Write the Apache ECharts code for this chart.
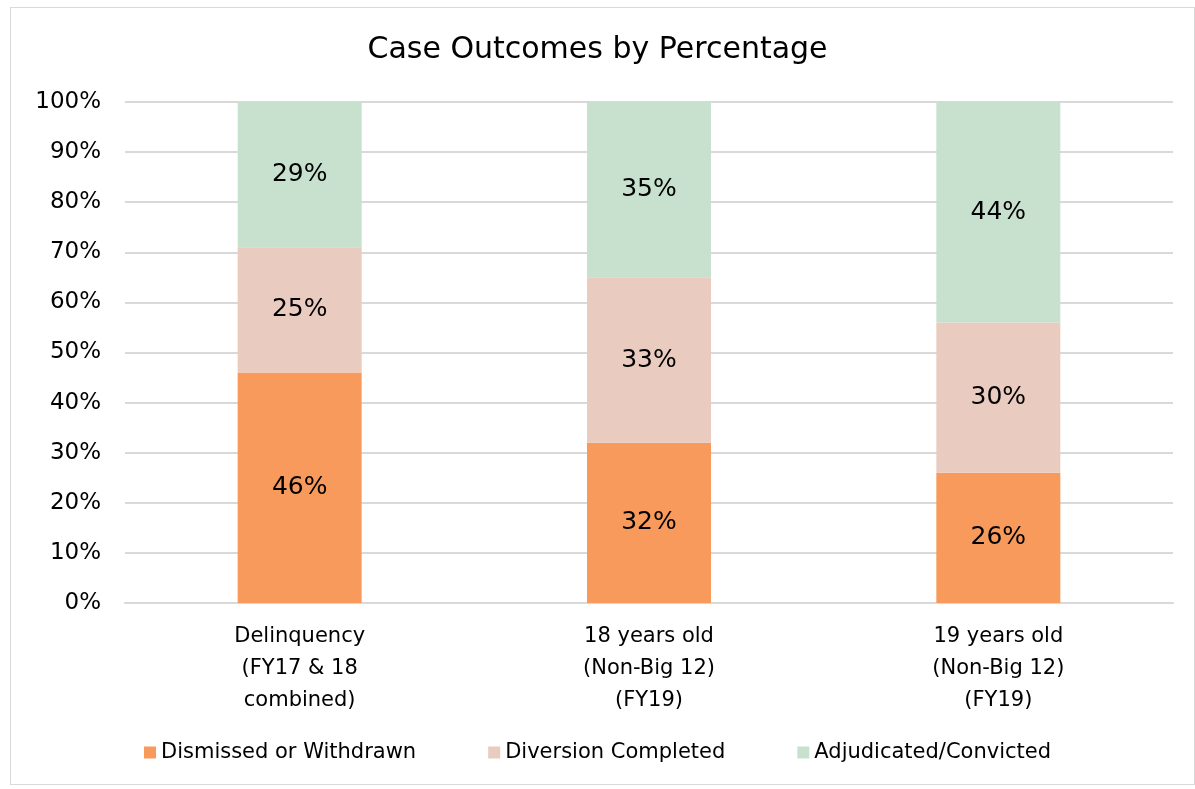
<!DOCTYPE html>
<html>
<head>
<meta charset="utf-8">
<script src="https://cdn.jsdelivr.net/npm/echarts@6/dist/echarts.min.js"></script>
<style>
  html, body { margin: 0; padding: 0; background: #fff; }
  #frame { position: absolute; left: 10px; top: 7px; width: 1185px; height: 778px; border: 1px solid #d9d9d9; box-sizing: border-box; }
  #main { position: absolute; left: 0; top: 0; width: 1195px; height: 789px; }
</style>
</head>
<body>
<div id="frame"></div>
<div id="main"></div>
<script>
var categories = ['Delinquency\n(FY17 & 18\ncombined)', '18 years old\n(Non-Big 12)\n(FY19)', '19 years old\n(Non-Big 12)\n(FY19)'];
var dismissed = [46, 32, 26];
var diversion = [25, 33, 30];
var adjudicated = [29, 35, 44];

var chart = echarts.init(document.getElementById('main'));
var font = '"DejaVu Sans", sans-serif';

function seriesOf(name, data, color) {
  return {
    name: name,
    type: 'bar',
    stack: 'total',
    data: data,
    barWidth: 124,
    itemStyle: { color: color },
    label: {
      show: true,
      formatter: '{c}%',
      color: '#000',
      fontSize: 25,
      fontFamily: font
    }
  };
}

var option = {
  animation: false,
  textStyle: { fontFamily: font },
  title: {
    text: 'Case Outcomes by Percentage',
    left: 'center',
    top: 30,
    textStyle: { fontSize: 30, fontWeight: 'normal', color: '#000', fontFamily: font }
  },
  grid: { left: 125, right: 22, top: 102, bottom: 186 },
  legend: {
    bottom: 21,
    itemWidth: 12,
    itemHeight: 12,
    itemGap: 72,
    icon: 'rect',
    textStyle: { fontSize: 21, color: '#000', fontFamily: font }
  },
  xAxis: {
    type: 'category',
    data: categories,
    axisTick: { show: false },
    axisLine: { lineStyle: { color: '#d9d9d9', width: 2 } },
    axisLabel: { fontSize: 21, color: '#000', lineHeight: 32, margin: 18, fontFamily: font }
  },
  yAxis: {
    type: 'value',
    min: 0,
    max: 100,
    interval: 10,
    axisLabel: { formatter: '{value}%', fontSize: 23, color: '#000', margin: 24, fontFamily: font },
    splitLine: { lineStyle: { color: '#d9d9d9', width: 2 } }
  },
  series: [
    seriesOf('Dismissed or Withdrawn', dismissed, '#F79A5C'),
    seriesOf('Diversion Completed', diversion, '#E9CBBF'),
    seriesOf('Adjudicated/Convicted', adjudicated, '#C7E1CE')
  ]
};
chart.setOption(option);
</script>
</body>
</html>
